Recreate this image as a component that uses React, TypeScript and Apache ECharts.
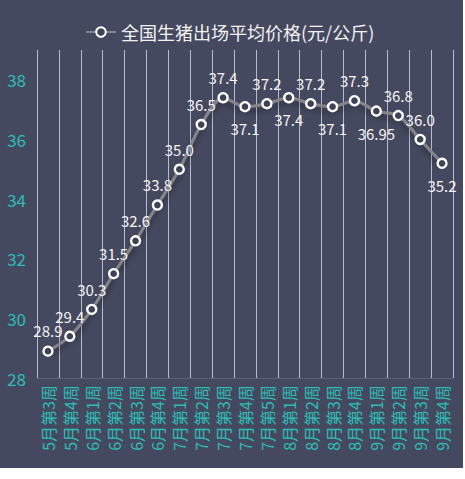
import { useEffect, useRef } from "react"
import * as echarts from "echarts"

const weeks = [
  "5月第3周", "5月第4周", "6月第1周", "6月第2周", "6月第3周", "6月第4周",
  "7月第1周", "7月第2周", "7月第3周", "7月第4周", "7月第5周", "8月第1周",
  "8月第2周", "8月第3周", "8月第4周", "9月第1周", "9月第2周", "9月第3周", "9月第4周",
]
const prices = [
  28.9, 29.4, 30.3, 31.5, 32.6, 33.8, 35.0, 36.5, 37.4, 37.1,
  37.2, 37.4, 37.2, 37.1, 37.3, 36.95, 36.8, 36.0, 35.2,
]
// which labels sit under the point instead of above it
const labelBelow = [9, 11, 13, 15, 18]

const font = '"Noto Sans CJK SC", "Noto Sans", sans-serif'

export default function App() {
  const chartRef = useRef<HTMLDivElement>(null)

  useEffect(() => {
    document.body.style.margin = "0"
    if (!chartRef.current) return
    const chart = echarts.init(chartRef.current, null, { renderer: "svg" })

    const option: echarts.EChartsOption = {
      animation: false,
      backgroundColor: "#454960",
      textStyle: { fontFamily: font },
      legend: {
        data: ["全国生猪出场平均价格(元/公斤)"],
        top: 18,
        left: 80,
        itemWidth: 30,
        itemHeight: 12,
        itemGap: 6,
        textStyle: { color: "#f2f2f2", fontSize: 18, fontFamily: font },
      },
      grid: { left: 37, right: 10, top: 50, bottom: 90 },
      xAxis: {
        type: "category",
        data: weeks,
        boundaryGap: true,
        axisLine: { show: true, lineStyle: { color: "#5c6178", width: 1 } },
        axisTick: { show: false },
        splitLine: { show: true, interval: 0, lineStyle: { color: "#b9bccb", width: 1 } },
        axisLabel: {
          rotate: 90,
          interval: 0,
          margin: 7,
          color: "#2dbdb5",
          fontSize: 16,
          fontFamily: font,
        },
      },
      yAxis: {
        type: "value",
        min: 28,
        max: 39,
        interval: 2,
        axisLine: { show: false },
        axisTick: { show: false },
        splitLine: { show: false },
        axisLabel: {
          color: "#2dbdb5",
          fontSize: 17,
          margin: 11,
          showMaxLabel: false,
          fontFamily: font,
        },
      },
      series: [
        {
          name: "全国生猪出场平均价格(元/公斤)",
          type: "line",
          smooth: 0.3,
          symbol: "circle",
          symbolSize: 9,
          data: prices.map((v, i) => ({
            value: v,
            label: labelBelow.includes(i)
              ? { position: "bottom", distance: 9 }
              : { position: "top", distance: 7 },
          })),
          lineStyle: {
            color: "#858589",
            width: 3,
            shadowColor: "rgba(0,0,0,0.45)",
            shadowBlur: 6,
            shadowOffsetY: 4,
          },
          itemStyle: {
            color: "#3e4257",
            borderColor: "#ffffff",
            borderWidth: 2.4,
          },
          label: {
            show: true,
            color: "#f5f5f5",
            fontSize: 15,
            fontFamily: font,
            formatter: (p: any) => {
              const v = p.value as number
              return Number.isInteger(Math.round(v * 100) / 10) ? v.toFixed(1) : String(v)
            },
          },
        },
      ],
    }

    chart.setOption(option)
    return () => {
      chart.dispose()
    }
  }, [])

  return (
    <div style={{ width: 465, height: 479, background: "#ffffff" }}>
      <div ref={chartRef} style={{ width: 463, height: 468 }} />
    </div>
  )
}
